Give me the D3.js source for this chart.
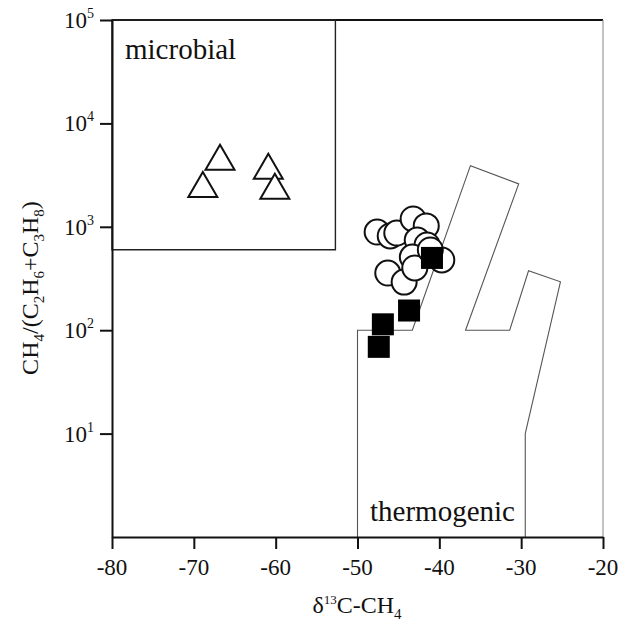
<!DOCTYPE html>
<html>
<head>
<meta charset="utf-8">
<script src="https://cdn.jsdelivr.net/npm/d3@7"></script>
<style>
  body { margin: 0; background: #fff; }
  text { font-family: "Liberation Serif", "Times New Roman", serif; fill: #111; }
</style>
</head>
<body>
<svg id="chart" width="629" height="624"></svg>
<script>
// tick values
const xTicks = [-80, -70, -60, -50, -40, -30, -20];
const yTickExps = [1, 2, 3, 4, 5];

// microbial samples (triangles)
const triX = [-66.8, -68.9, -60.9, -60.1];
const triY = [4700, 2560, 3850, 2470];

// circles
const circX = [-47.6, -46.0, -45.2, -43.2, -41.6, -42.7, -41.5, -43.3, -39.7, -46.3, -44.3, -43.0, -41.1];
const circY = [890, 815, 870, 1190, 1020, 745, 667, 510, 478, 357, 292, 400, 597];

// filled squares
const sqX = [-43.7, -46.9, -47.4, -40.9];
const sqY = [155, 114, 69, 500];

// region outlines
const microbialBox = [[-80, 600], [-52.7, 600], [-52.7, 1e5], [-80, 1e5]];
const thermoX = [-50, -50, -43.3, -36.2, -30.3, -36.8, -31.4, -29.1, -25.2, -29.5, -29.5];
const thermoY = [1, 100, 100, 3900, 2600, 100, 100, 376, 294, 10, 1];

const svg = d3.select("#chart");
const x = d3.scaleLinear().domain([-80, -20]).range([112, 603]);
const y = d3.scaleLog().domain([1, 1e5]).range([537, 20]);

// frame top and right
svg.append("line").attr("x1", 112).attr("x2", 603).attr("y1", 20).attr("y2", 20)
	.attr("stroke", "#111").attr("stroke-width", 2);
svg.append("line").attr("x1", 603).attr("x2", 603).attr("y1", 20).attr("y2", 537)
	.attr("stroke", "#888").attr("stroke-width", 1);

// thermogenic outline
const thermo = thermoX.map((v, i) => [x(v), y(thermoY[i])]);
svg.append("path")
	.attr("d", d3.line()(thermo))
	.attr("fill", "none")
	.attr("stroke", "#555")
	.attr("stroke-width", 1.1);

// microbial box
svg.append("path")
	.attr("d", d3.line()(microbialBox.map(p => [x(p[0]), y(p[1])])) + "Z")
	.attr("fill", "none")
	.attr("stroke", "#222")
	.attr("stroke-width", 1.4);

svg.append("text").attr("x", 125).attr("y", 59)
	.style("font-size", "29px").text("microbial");
svg.append("text").attr("x", 370).attr("y", 521)
	.style("font-size", "29px").text("thermogenic");

// axes
const xAxis = d3.axisBottom(x).tickValues(xTicks).tickSize(12).tickSizeOuter(0).tickFormat("");
const gx = svg.append("g").attr("transform", "translate(0,537)").call(xAxis);
const yAxis = d3.axisLeft(y).tickValues(yTickExps.map(e => Math.pow(10, e))).tickSize(12).tickSizeOuter(0).tickFormat("");
const gy = svg.append("g").attr("transform", "translate(112,0)").call(yAxis);
[gx, gy].forEach(g => {
	g.select(".domain").attr("stroke", "#111").attr("stroke-width", 2);
	g.selectAll(".tick line").attr("stroke", "#111").attr("stroke-width", 2);
});

svg.selectAll("text.xtick")
	.data(xTicks)
	.enter()
	.append("text")
	.attr("class", "xtick")
	.attr("x", d => x(d))
	.attr("y", 575)
	.attr("text-anchor", "middle")
	.style("font-size", "23px")
	.text(d => d);

const ylab = svg.selectAll("text.ytick")
	.data(yTickExps)
	.enter()
	.append("text")
	.attr("class", "ytick")
	.attr("x", 94)
	.attr("y", d => y(Math.pow(10, d)) + 8)
	.attr("text-anchor", "end")
	.style("font-size", "23px");
ylab.append("tspan").text("10");
ylab.append("tspan").attr("dy", -10).style("font-size", "14px").text(d => d);

// axis titles
const xt = svg.append("text").attr("x", 357).attr("y", 613)
	.attr("text-anchor", "middle").style("font-size", "24px");
xt.append("tspan").text("δ");
xt.append("tspan").attr("dy", -9).style("font-size", "13px").text("13");
xt.append("tspan").attr("dy", 9).text("C-CH");
xt.append("tspan").attr("dy", 6).style("font-size", "15px").text("4");

const yt = svg.append("text")
	.attr("transform", "translate(38,288) rotate(-90)")
	.attr("text-anchor", "middle").style("font-size", "24px");
const ytParts = [["CH", 0], ["4", 1], ["/(C", 0], ["2", 1], ["H", 0], ["6", 1], ["+C", 0], ["3", 1], ["H", 0], ["8", 1], [")", 0]];
let prevSub = 0;
ytParts.forEach(p => {
	yt.append("tspan")
		.attr("dy", (p[1] - prevSub) * 6)
		.style("font-size", p[1] ? "15px" : "24px")
		.text(p[0]);
	prevSub = p[1];
});

// markers
svg.selectAll("circle.pt")
	.data(circX.map((v, i) => ({ x: v, y: circY[i] })))
	.enter()
	.append("circle")
	.attr("class", "pt")
	.attr("cx", d => x(d.x))
	.attr("cy", d => y(d.y))
	.attr("r", 12.5)
	.attr("fill", "#fff")
	.attr("stroke", "#111")
	.attr("stroke-width", 2);

svg.selectAll("rect.pt")
	.data(sqX.map((v, i) => ({ x: v, y: sqY[i] })))
	.enter()
	.append("rect")
	.attr("class", "pt")
	.attr("x", d => x(d.x) - 11)
	.attr("y", d => y(d.y) - 11)
	.attr("width", 22)
	.attr("height", 22)
	.attr("fill", "#000");

svg.selectAll("path.tri")
	.data(triX.map((v, i) => ({ x: v, y: triY[i] })))
	.enter()
	.append("path")
	.attr("class", "tri")
	.attr("d", d => {
		const cx = x(d.x), cy = y(d.y);
		return `M${cx},${cy - 12.5}L${cx + 14.5},${cy + 12.5}L${cx - 14.5},${cy + 12.5}Z`;
	})
	.attr("fill", "#fff")
	.attr("stroke", "#111")
	.attr("stroke-width", 2);
</script>
</body>
</html>
